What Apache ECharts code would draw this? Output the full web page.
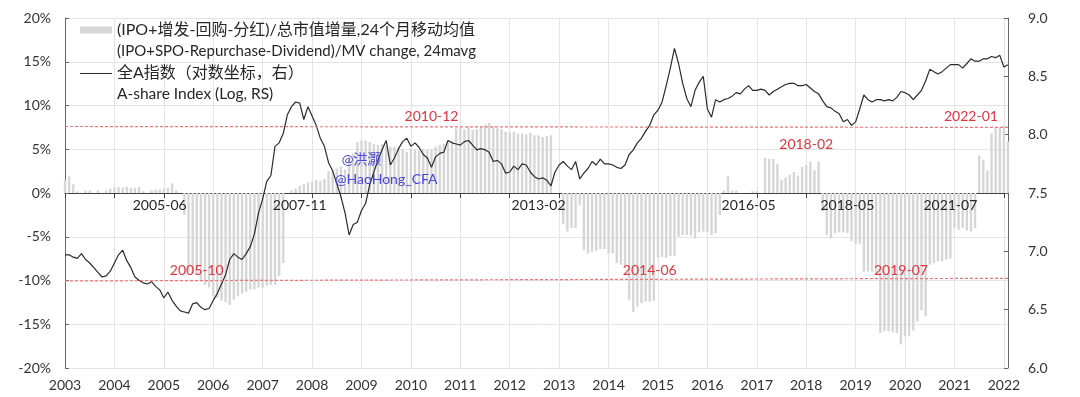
<!DOCTYPE html>
<html><head><meta charset="utf-8">
<script src="https://cdn.jsdelivr.net/npm/echarts@6/dist/echarts.min.js"></script>
<style>html,body{margin:0;padding:0;background:#fff}#c{width:1080px;height:397px}</style>
</head><body><div id="c"></div>
<script>
// ---- categories: monthly, 2003-01 .. 2022-02 ----
const startYear = 2003;
const monthCount = 230;
const months = [];
for (let k = 0; k < monthCount; k++) {
  const y = startYear + Math.floor(k / 12), m = k % 12 + 1;
  months.push(y + '-' + (m < 10 ? '0' : '') + m);
}

// ---- (IPO+SPO-Repurchase-Dividend)/MV change, 24m avg, % (left axis) ----
const flow2003 = [1.5,1.9,1.0,0.2,0,0.3,0.3,0,0.3,0,0.3,0.5];
const flow2004 = [0.6,0.7,0.6,0.7,0.6,0.6,0.7,0.2,0,0.3,0.4,0.4];
const flow2005 = [0.5,0.6,1.1,0.3,0,-2.5,-9.0,-9.2,-9.3,-10.0,-10.5,-10.8];
const flow2006 = [-11.8,-12.0,-12.3,-12.5,-12.8,-12.2,-11.8,-11.5,-11.3,-11.0,-11.0,-10.8];
const flow2007 = [-10.8,-10.6,-10.5,-10.5,-9.5,-8.0,0,0.3,0.5,0.8,1.0,1.2];
const flow2008 = [1.3,1.5,1.4,1.6,2.5,2.6,2.8,3.0,2.7,4.2,4.5,5.8];
const flow2009 = [6.0,6.0,5.8,5.6,5.5,5.6,5.4,5.3,5.3,5.2,5.0,4.7];
const flow2010 = [5.1,4.9,4.8,5.0,4.9,5.0,5.3,5.5,5.6,5.8,6.0,7.4];
const flow2011 = [7.5,7.3,7.6,7.2,7.3,7.5,7.8,8.0,7.6,7.4,7.3,7.0];
const flow2012 = [6.9,7.0,6.8,6.8,6.7,6.9,6.6,6.6,6.4,6.5,6.6,0];
const flow2013 = [0,-3.5,-4.4,-4.0,-4.0,-1.4,-6.5,-6.9,-6.7,-6.6,-6.4,-6.4];
const flow2014 = [-6.9,-6.9,-8.0,-8.2,-8.3,-12.2,-13.6,-13.0,-12.6,-12.4,-12.4,-12.3];
const flow2015 = [-7.4,-7.3,-7.4,-7.2,-7.2,-5.0,-4.8,-4.8,-4.9,-5.2,-4.5,-4.4];
const flow2016 = [-4.5,-4.8,-4.6,-2.5,0.3,1.9,0.3,0.3,0,0,0,0.2];
const flow2017 = [0.2,0,4.0,3.9,3.9,3.3,1.5,1.8,2.1,2.4,2.0,3.0];
const flow2018 = [3.2,3.6,2.6,3.6,-2.1,-4.8,-5.2,-4.6,-4.5,-4.5,-4.6,-5.5];
const flow2019 = [-5.8,-5.8,-9.0,-9.0,-9.0,-9.1,-16.0,-15.8,-15.8,-15.9,-16.0,-17.3];
const flow2020 = [-16.4,-16.3,-15.7,-14.7,-13.4,-14.1,-8.2,-8.0,-7.8,-7.8,-7.6,-7.5];
const flow2021 = [-4.0,-4.2,-4.0,-4.3,-4.4,-4.0,4.3,3.8,2.6,6.8,7.4,7.5];
const flow2022 = [7.7,5.9];

// ---- A-share index, natural log (right axis) ----
const idx2003 = [6.97,6.97,6.95,6.94,6.98,6.93,6.90,6.86,6.82,6.78,6.79,6.83];
const idx2004 = [6.90,6.97,7.01,6.92,6.86,6.78,6.75,6.73,6.72,6.74,6.70,6.67];
const idx2005 = [6.60,6.65,6.58,6.53,6.49,6.48,6.47,6.55,6.56,6.52,6.50,6.51];
const idx2006 = [6.58,6.64,6.72,6.80,6.93,6.98,6.95,6.93,6.98,7.04,7.15,7.33];
const idx2007 = [7.45,7.60,7.65,7.90,7.93,8.01,8.17,8.24,8.28,8.27,8.13,8.24];
const idx2008 = [8.16,8.08,7.97,7.90,7.76,7.69,7.58,7.47,7.33,7.14,7.23,7.25];
const idx2009 = [7.35,7.41,7.57,7.68,7.78,7.87,7.95,7.74,7.80,7.88,7.94,7.97];
const idx2010 = [7.90,7.93,7.89,7.83,7.80,7.72,7.81,7.84,7.85,7.95,7.93,7.92];
const idx2011 = [7.91,7.94,7.95,7.91,7.87,7.88,7.87,7.85,7.77,7.78,7.75,7.67];
const idx2012 = [7.68,7.73,7.70,7.75,7.74,7.68,7.64,7.62,7.63,7.61,7.56,7.68];
const idx2013 = [7.74,7.77,7.73,7.70,7.77,7.62,7.67,7.71,7.77,7.74,7.79,7.75];
const idx2014 = [7.75,7.74,7.72,7.71,7.74,7.83,7.87,7.93,7.97,8.03,8.08,8.17];
const idx2015 = [8.21,8.28,8.42,8.57,8.74,8.61,8.44,8.31,8.24,8.38,8.45,8.50];
const idx2016 = [8.22,8.15,8.30,8.28,8.30,8.31,8.33,8.36,8.35,8.39,8.42,8.38];
const idx2017 = [8.38,8.39,8.38,8.34,8.37,8.39,8.41,8.43,8.44,8.44,8.42,8.42];
const idx2018 = [8.43,8.40,8.37,8.35,8.29,8.24,8.23,8.20,8.18,8.11,8.13,8.08];
const idx2019 = [8.11,8.22,8.34,8.30,8.28,8.30,8.30,8.29,8.30,8.29,8.32,8.37];
const idx2020 = [8.36,8.34,8.30,8.34,8.38,8.46,8.56,8.54,8.52,8.54,8.57,8.60];
const idx2021 = [8.60,8.60,8.57,8.61,8.65,8.63,8.63,8.65,8.65,8.67,8.66,8.68];
const idx2022 = [8.58,8.60];

const flowRatio = [].concat(flow2003,flow2004,flow2005,flow2006,flow2007,flow2008,flow2009,flow2010,
  flow2011,flow2012,flow2013,flow2014,flow2015,flow2016,flow2017,flow2018,flow2019,flow2020,flow2021,flow2022);
const logIndex = [].concat(idx2003,idx2004,idx2005,idx2006,idx2007,idx2008,idx2009,idx2010,
  idx2011,idx2012,idx2013,idx2014,idx2015,idx2016,idx2017,idx2018,idx2019,idx2020,idx2021,idx2022);

// ---- tick labels ----
const leftTicks = { min: -20, max: 20, interval: 5 };
const rightTicks = { min: 6.0, max: 9.0, interval: 0.5 };

// ---- reference levels (start value, end value), % ----
const upperLevel = [7.6, 7.5];
const lowerLevel = [-10.05, -9.75];

// ---- annotations: [text, anchor month, value on left axis] ----
const redNotes = [
  ['2010-12', '2010-06', 8.7], ['2022-01', '2021-05', 8.7], ['2018-02', '2018-01', 5.6],
  ['2005-10', '2005-09', -8.8], ['2014-06', '2014-11', -8.8], ['2019-07', '2019-12', -8.8]
];
const blackNotes = [
  ['2005-06', '2004-12', -1.4], ['2007-11', '2007-10', -1.4], ['2013-02', '2012-08', -1.4],
  ['2016-05', '2016-11', -1.4], ['2018-05', '2018-11', -1.4], ['2021-07', '2020-12', -1.4]
];
const blueNotes = [['@洪灏', '2009-01', 3.8], ['@HaoHong_CFA', '2009-07', 1.55]];

// ---- legend texts ----
const barNameCn = '(IPO+增发-回购-分红)/总市值增量,24个月移动均值';
const barNameEn = '(IPO+SPO-Repurchase-Dividend)/MV change, 24mavg';
const lineNameCn = '全A指数（对数坐标，右）';
const lineNameEn = 'A-share Index (Log, RS)';
const barName = barNameCn + '\n' + barNameEn;
const lineName = lineNameCn + '\n' + lineNameEn;

const FONT = 'Lato, "Noto Sans CJK SC", sans-serif';
const isYearStart = (i) => i % 12 === 0;

function notePoints(list, color) {
  return list.map(n => ({
    name: n[0], coord: [n[1], n[2]],
    label: { color: color }
  }));
}

// thin horizontal line icon inside a 32x7 box
const lineIcon = 'path://M0,3.4 L32,3.4 L32,4.6 L0,4.6 Z M0,0 L0.02,0 L0,0.02 Z M32,7 L31.98,7 L32,6.98 Z';

const chart = echarts.init(document.getElementById('c'), null, { renderer: 'canvas' });
chart.setOption({
  animation: false,
  backgroundColor: '#ffffff',
  textStyle: { fontFamily: FONT },
  grid: { left: 65, right: 72, top: 18, bottom: 29, containLabel: false },
  legend: {
    left: 80, top: -1.5, padding: 0, orient: 'vertical',
    itemWidth: 32, itemHeight: 7, itemGap: -20,
    selectedMode: false,
    data: [{ name: barName, icon: 'rect' }, { name: lineName, icon: lineIcon }],
    formatter: function (name) {
      const parts = name.split('\n');
      const first = name === barName ? 'a' : 'c';
      const second = name === barName ? 'b' : 'd';
      return '\n{' + first + '|' + parts[0] + '}\n{' + second + '|' + parts[1] + '}';
    },
    textStyle: {
      fontFamily: FONT, fontSize: 15, color: '#262626', lineHeight: 21,
      rich: {
        a: { fontSize: 16, lineHeight: 21, color: '#262626', fontFamily: FONT },
        b: { fontSize: 15, lineHeight: 21, color: '#262626', fontFamily: FONT },
        c: { fontSize: 16, lineHeight: 21, color: '#262626', fontFamily: FONT },
        d: { fontSize: 15.5, lineHeight: 21, color: '#262626', fontFamily: FONT }
      }
    }
  },
  xAxis: [
    {
      type: 'category', data: months, boundaryGap: false,
      axisLine: { onZero: true, lineStyle: { color: '#404040', width: 1 } },
      axisTick: { show: true, interval: isYearStart, length: 5, lineStyle: { color: '#404040' } },
      axisLabel: { show: false },
      splitLine: { show: true, interval: isYearStart, lineStyle: { color: '#e4e4e4', width: 1 } }
    },
    {
      type: 'category', data: months, boundaryGap: false, position: 'bottom',
      axisLine: { show: false, onZero: false }, axisTick: { show: false }, splitLine: { show: false },
      axisLabel: {
        interval: isYearStart, formatter: v => v.slice(0, 4),
        fontSize: 14, color: '#333333', margin: 10, fontFamily: FONT
      }
    }
  ],
  yAxis: [
    {
      type: 'value', min: leftTicks.min, max: leftTicks.max, interval: leftTicks.interval,
      axisLine: { show: true, lineStyle: { color: '#666666' } },
      axisTick: { show: true, inside: true, length: 4, lineStyle: { color: '#666666' } },
      axisLabel: { formatter: v => v + '%', fontSize: 14, color: '#333333', margin: 14, fontFamily: FONT },
      splitLine: { show: true, lineStyle: { color: '#e4e4e4' } }
    },
    {
      type: 'value', position: 'right', min: rightTicks.min, max: rightTicks.max, interval: rightTicks.interval,
      axisLine: { show: true, lineStyle: { color: '#666666' } },
      axisTick: { show: true, inside: true, length: 4, lineStyle: { color: '#666666' } },
      axisLabel: { formatter: v => v.toFixed(1), fontSize: 14, color: '#333333', margin: 20, fontFamily: FONT },
      splitLine: { show: false }
    }
  ],
  series: [
    {
      name: barName, type: 'bar', xAxisIndex: 0, yAxisIndex: 0, data: flowRatio,
      barWidth: 2.4, itemStyle: { color: '#d6d6d6' }, z: 2,
      markLine: {
        silent: true, symbol: 'none',
        lineStyle: { color: '#ef7378', type: [3, 2], width: 1.2 },
        label: { show: false },
        data: [
          [{ coord: [months[0], upperLevel[0]] }, { coord: [months[monthCount - 1], upperLevel[1]] }],
          [{ coord: [months[0], lowerLevel[0]] }, { coord: [months[monthCount - 1], lowerLevel[1]] }]
        ]
      },
      markPoint: {
        silent: true, symbol: 'circle', symbolSize: 0,
        label: { show: true, position: 'inside', formatter: '{b}', fontSize: 14, fontFamily: FONT },
        data: [].concat(notePoints(redNotes, '#e0343f'), notePoints(blackNotes, '#262626'),
          notePoints(blueNotes, '#4a46d6'))
      }
    },
    {
      name: lineName, type: 'line', xAxisIndex: 0, yAxisIndex: 1, data: logIndex,
      symbol: 'none', smooth: false,
      lineStyle: { color: '#2b2b2b', width: 1.2 }, itemStyle: { color: '#2b2b2b' }, z: 3
    }
  ]
});
</script>
</body></html>
